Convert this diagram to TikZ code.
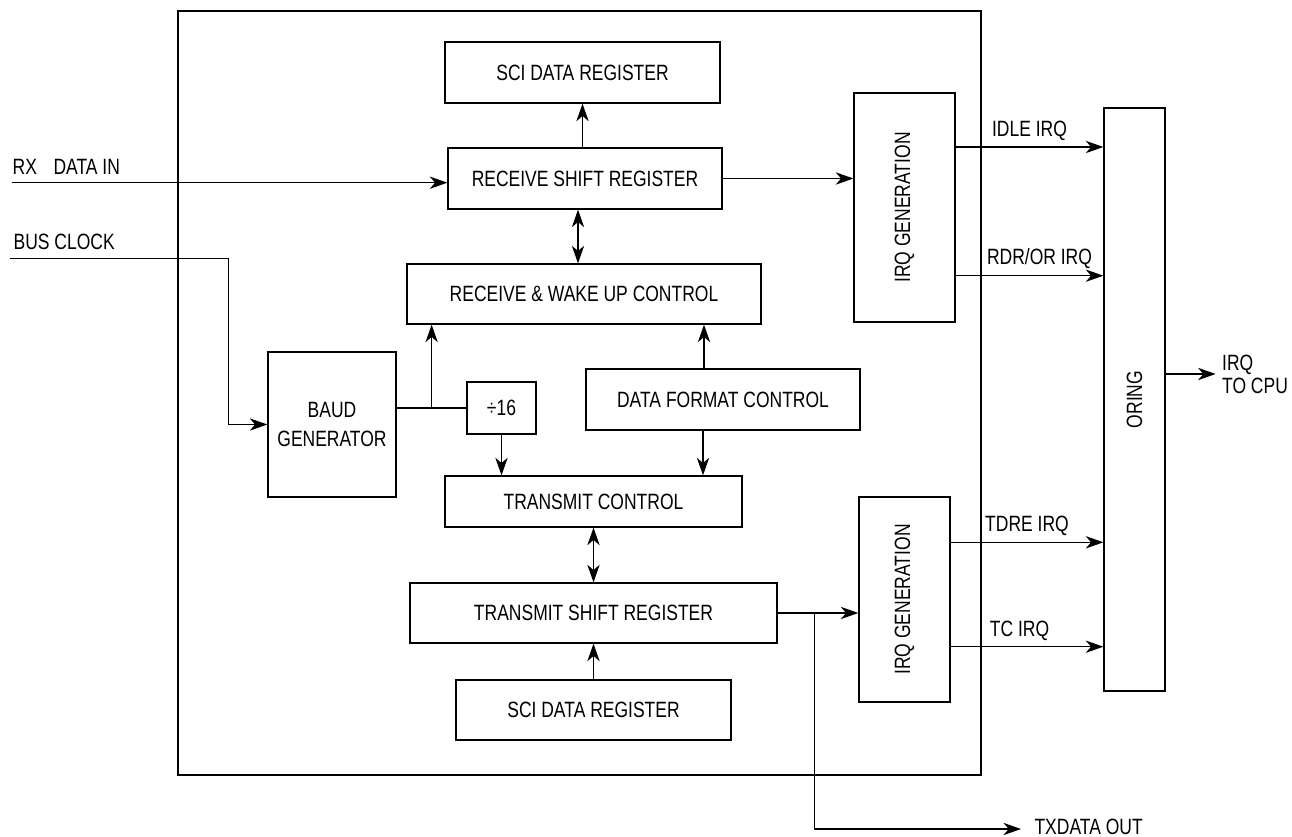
\documentclass[tikz,border=0pt]{standalone}
\usepackage{fontspec}
\setmainfont{Liberation Sans}[FakeStretch=0.79]
\usetikzlibrary{arrows.meta,positioning}

\begin{document}
\begin{tikzpicture}[x=0.02cm,y=-0.02cm,line width=0.75pt,
  >={Stealth[length=10pt,width=7pt,inset=3pt]},
  font=\fontsize{12.6}{16.5}\selectfont,
  block/.style={draw,inner sep=1pt,align=center},
  lbl/.style={inner sep=0pt,anchor=west}]
\useasboundingbox (0,0) rectangle (1292,837);

% SCI module outline
\node[draw,minimum width=16.06cm,minimum height=15.28cm] (sci) at (579.5,393) {};

% receive path
\node[block,minimum width=5.5cm,minimum height=1.22cm] (rxdata) at (582.5,72.5) {SCI DATA REGISTER};
\node[block,minimum width=5.48cm,minimum height=1.22cm] (rxsr) at (585,178.5) {RECEIVE SHIFT REGISTER};
\node[block,minimum width=7.08cm,minimum height=1.2cm] (wake) at (584,294) {RECEIVE \& WAKE UP CONTROL};

% clocking and format
\node[block,minimum width=2.56cm,minimum height=2.9cm] (baud) at (332,424.5) {BAUD\\GENERATOR};
\node[block,minimum width=1.38cm,minimum height=1.04cm] (div) at (501.5,408) {÷16};
\node[block,minimum width=5.48cm,minimum height=1.22cm] (fmt) at (723,399.5) {DATA FORMAT CONTROL};

% transmit path
\node[block,minimum width=5.94cm,minimum height=1.02cm] (txctl) at (593.5,501.5) {TRANSMIT CONTROL};
\node[block,minimum width=7.34cm,minimum height=1.2cm] (txsr) at (593.5,613) {TRANSMIT SHIFT REGISTER};
\node[block,minimum width=5.5cm,minimum height=1.2cm] (txdata) at (593.5,710) {SCI DATA REGISTER};

% interrupt logic
\node[block,minimum width=2.02cm,minimum height=4.58cm] (rxirq) at (904.5,207.5) {\rotatebox{90}{IRQ GENERATION}};
\node[block,minimum width=1.82cm,minimum height=4.1cm] (txirq) at (904.5,599.5) {\rotatebox{90}{IRQ GENERATION}};
\node[block,minimum width=1.22cm,minimum height=11.66cm] (oring) at (1134.5,399.5) {\rotatebox{90}{ORING}};

% external inputs
\coordinate (rxin) at (12,182.7);
\coordinate (busin) at (10,258.7);
\node[lbl] (rxlbl) at (12,167) {RX\hspace{0.75em}DATA IN};
\node[lbl] (buslbl) at (13,242) {BUS CLOCK};
\draw[->] (rxin) -- (rxin -| rxsr.west);
\draw[->] (busin) -| ([xshift=-0.78cm]baud.west) -- (baud.west);

% receive connections
\draw[->] (rxsr.north -| rxdata.south) -- (rxdata.south);
\coordinate (rw) at ([xshift=-0.14cm]rxsr.south);
\draw[<->] (rw) -- (rw |- wake.north);
\draw[->] (rxsr.east) -- (rxsr.east -| rxirq.west);

% baud rate and format
\draw (baud.east |- div.west) -- (div.west);
\coordinate (tap) at ([xshift=0.7cm]baud.east |- div.west);
\draw[->] (tap) -- (tap |- wake.south);
\draw[->] (div.south) -- (div.south |- txctl.north);
\coordinate (fmtup) at ([xshift=-0.38cm]fmt.north);
\draw[->] (fmtup) -- (fmtup |- wake.south);
\coordinate (fmtdn) at ([xshift=-0.4cm]fmt.south);
\draw[->] (fmtdn) -- (fmtdn |- txctl.north);

% transmit connections
\draw[<->] (txctl.south) -- (txsr.north);
\draw[->] (txdata.north) -- (txsr.south);
\draw[->] (txsr.east) -- (txsr.east -| txirq.west);
\coordinate (txtap) at (814.7,613);
\coordinate (txout) at (1021,829);
\draw[->] (txtap) |- (txout) node[right,xshift=4pt,yshift=1pt] (txlbl) {TXDATA OUT};

% interrupt requests
\coordinate (idleY) at (0,147);
\coordinate (rdrY) at (0,275.7);
\coordinate (tdreY) at (0,542.3);
\coordinate (tcY) at (0,646.7);
\coordinate (cpuY) at (0,374);
\draw[->] (rxirq.east |- idleY) -- (oring.west |- idleY) node[midway,above] (idle) {IDLE IRQ};
\draw[->] (rxirq.east |- rdrY) -- (oring.west |- rdrY) node[midway,above,xshift=0.2cm] (rdr) {RDR/OR IRQ};
\draw[->] (txirq.east |- tdreY) -- (oring.west |- tdreY) node[midway,above] (tdre) {TDRE IRQ};
\draw[->] (txirq.east |- tcY) -- (oring.west |- tcY) node[midway,above,xshift=-0.15cm] (tc) {TC IRQ};
\draw[->] (oring.east |- cpuY) -- ++(1.0cm,0) node[right,align=left] (cpu) {IRQ\\[-3.5pt]TO CPU};
\end{tikzpicture}
\end{document}
